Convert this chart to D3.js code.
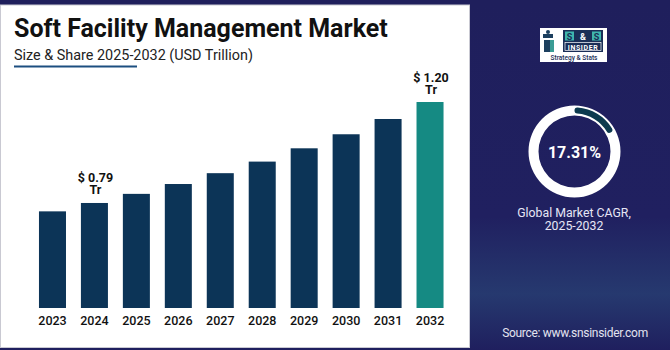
<!DOCTYPE html>
<html>
<head>
<meta charset="utf-8">
<script src="https://cdn.jsdelivr.net/npm/d3@7"></script>
<style>
  html, body { margin: 0; padding: 0; background: #1f1f5c; }
  svg { display: block; font-family: Roboto, "Noto Sans", sans-serif; }
</style>
</head>
<body>
<div id="chart"></div>
<script>
// chart data
let years = ['2023', '2024', '2025', '2026', '2027', '2028', '2029', '2030', '2031', '2032']
let marketSize = [0.756, 0.79, 0.827, 0.867, 0.911, 0.958, 1.012, 1.069, 1.131, 1.20]
let labelled = ['2024', '2032']
let cagr = 17.31

let svgWidth = 670
let svgHeight = 350

let svg = d3.select('#chart')
    .append('svg')
    .attr('width', svgWidth)
    .attr('height', svgHeight)

// background gradient for the right side
let defs = svg.append('defs')
let grad = defs.append('linearGradient')
    .attr('id', 'bg')
    .attr('x1', 0).attr('y1', 0).attr('x2', 0).attr('y2', 1)
grad.append('stop').attr('offset', '0%').attr('stop-color', '#1f1f5c')
grad.append('stop').attr('offset', '62%').attr('stop-color', '#202060')
grad.append('stop').attr('offset', '84%').attr('stop-color', '#26396f')
grad.append('stop').attr('offset', '100%').attr('stop-color', '#1f1f5e')

svg.append('rect')
    .attr('width', svgWidth).attr('height', svgHeight)
    .attr('fill', 'url(#bg)')

// white panel
svg.append('rect')
    .attr('x', 0.5).attr('y', 5)
    .attr('width', 469).attr('height', 342.5)
    .attr('fill', '#ffffff')
    .attr('stroke', '#c9c9d2')
    .attr('stroke-width', 1)

// title
svg.append('text')
    .attr('x', 14).attr('y', 37)
    .attr('font-size', 25)
    .attr('font-weight', 700)
    .attr('fill', '#111')
    .text('Soft Facility Management Market')

svg.append('text')
    .attr('x', 14).attr('y', 60)
    .attr('font-size', 14.4)
    .attr('fill', '#222')
    .text('Size & Share 2025-2032 (USD Trillion)')

svg.append('line')
    .attr('x1', 14).attr('x2', 137)
    .attr('y1', 66.5).attr('y2', 66.5)
    .attr('stroke', '#1c4f80')
    .attr('stroke-width', 2)

// scales
let xScale = d3.scaleBand()
    .domain(years)
    .range([31.5, 451])
    .paddingInner(0.356)
    .paddingOuter(0.178)

let yScale = d3.scaleLinear()
    .domain([0.3636, 1.20])
    .range([308, 102])

let bars = svg.append('g')
bars.selectAll('rect')
    .data(years)
    .enter()
    .append('rect')
    .attr('x', d => xScale(d))
    .attr('y', (d, i) => yScale(marketSize[i]))
    .attr('width', xScale.bandwidth())
    .attr('height', (d, i) => 308 - yScale(marketSize[i]))
    .attr('fill', d => d == '2032' ? '#158a83' : '#0c3457')

// value labels
years.forEach(function(d, i) {
    if (labelled.indexOf(d) < 0) return
    let cx = xScale(d) + xScale.bandwidth() / 2 + 1
    let top = yScale(marketSize[i])
    svg.append('text')
        .attr('x', cx).attr('y', top - 20.5)
        .attr('text-anchor', 'middle')
        .attr('font-size', 12.5)
        .attr('font-weight', 700)
        .attr('fill', '#111')
        .text('$ ' + marketSize[i].toFixed(2))
    svg.append('text')
        .attr('x', cx).attr('y', top - 8.5)
        .attr('text-anchor', 'middle')
        .attr('font-size', 12.5)
        .attr('font-weight', 700)
        .attr('fill', '#111')
        .text('Tr')
})

// x axis
let xAxis = d3.axisBottom(xScale).tickSize(0).tickPadding(8)
svg.append('g')
    .attr('transform', 'translate(0,308)')
    .call(xAxis)
    .call(g => g.select('.domain').remove())
    .selectAll('text')
    .attr('font-family', 'Roboto, sans-serif')
    .attr('font-size', 12.5)
    .attr('font-weight', 500)
    .attr('fill', '#111')

// logo
let logo = svg.append('g')
logo.append('rect')
    .attr('x', 540).attr('y', 28).attr('width', 67).attr('height', 34)
    .attr('fill', '#ffffff')
// tower icon
logo.append('rect').attr('x', 544).attr('y', 40).attr('width', 6).attr('height', 12).attr('fill', '#1c3f5e')
logo.append('rect').attr('x', 550).attr('y', 40).attr('width', 4).attr('height', 12).attr('fill', '#3a9c95')
logo.append('rect').attr('x', 543).attr('y', 34).attr('width', 10).attr('height', 4).attr('fill', '#1c3f5e')
logo.append('circle').attr('cx', 548).attr('cy', 32).attr('r', 2).attr('fill', '#1c3f5e')
logo.append('rect').attr('x', 563).attr('y', 30).attr('width', 40).attr('height', 22).attr('fill', '#1a2e57')
logo.append('rect').attr('x', 565).attr('y', 31.5).attr('width', 9).attr('height', 9).attr('fill', '#3fb6ad')
logo.append('rect').attr('x', 592).attr('y', 31.5).attr('width', 9).attr('height', 9).attr('fill', '#3fb6ad')
logo.append('text').attr('x', 569.5).attr('y', 39.5).attr('text-anchor', 'middle')
    .attr('font-size', 9).attr('font-weight', 700).attr('fill', '#1a2e57').text('S')
logo.append('text').attr('x', 583).attr('y', 39.5).attr('text-anchor', 'middle')
    .attr('font-size', 9).attr('font-weight', 700).attr('fill', '#ffffff').text('&')
logo.append('text').attr('x', 596.5).attr('y', 39.5).attr('text-anchor', 'middle')
    .attr('font-size', 9).attr('font-weight', 700).attr('fill', '#1a2e57').text('S')
logo.append('rect').attr('x', 565).attr('y', 42.5).attr('width', 36).attr('height', 8)
    .attr('fill', 'none').attr('stroke', '#ffffff').attr('stroke-width', 0.7)
logo.append('text').attr('x', 583).attr('y', 49.5).attr('text-anchor', 'middle')
    .attr('font-size', 7).attr('font-weight', 700).attr('fill', '#ffffff')
    .style('letter-spacing', '0.6px').text('INSIDER')
logo.append('text').attr('x', 574).attr('y', 59.5).attr('text-anchor', 'middle')
    .attr('font-size', 6.5).attr('font-weight', 500).attr('fill', '#1a2e57').text('Strategy & Stats')

// CAGR donut
let cx = 574.5, cy = 151.5
let ring = d3.arc().innerRadius(36).outerRadius(46).startAngle(0).endAngle(2 * Math.PI)
svg.append('path')
    .attr('transform', `translate(${cx},${cy})`)
    .attr('d', ring())
    .attr('fill', '#ffffff')

let arcScale = d3.scaleLinear().domain([0, 100]).range([0, 2 * Math.PI])
let progress = d3.arc()
    .innerRadius(38).outerRadius(44)
    .cornerRadius(3)
    .startAngle(arcScale(0))
    .endAngle(arcScale(cagr))
svg.append('path')
    .attr('transform', `translate(${cx},${cy})`)
    .attr('d', progress())
    .attr('fill', '#0c3a4e')

svg.append('text')
    .attr('x', cx).attr('y', 157.5)
    .attr('text-anchor', 'middle')
    .attr('font-size', 16)
    .attr('font-weight', 700)
    .attr('fill', '#ffffff')
    .text(cagr.toFixed(2) + '%')

svg.append('text')
    .attr('x', 574).attr('y', 216.5)
    .attr('text-anchor', 'middle')
    .attr('font-size', 12.3)
    .attr('fill', '#e6e6f5')
    .text('Global Market CAGR,')
svg.append('text')
    .attr('x', 574).attr('y', 229.5)
    .attr('text-anchor', 'middle')
    .attr('font-size', 12.3)
    .attr('fill', '#e6e6f5')
    .text('2025-2032')

svg.append('text')
    .attr('x', 575).attr('y', 337)
    .attr('text-anchor', 'middle')
    .attr('font-size', 12)
    .attr('fill', '#e3e3f0')
    .style('letter-spacing', '-0.3px')
    .text('Source: www.snsinsider.com')
</script>
</body>
</html>
